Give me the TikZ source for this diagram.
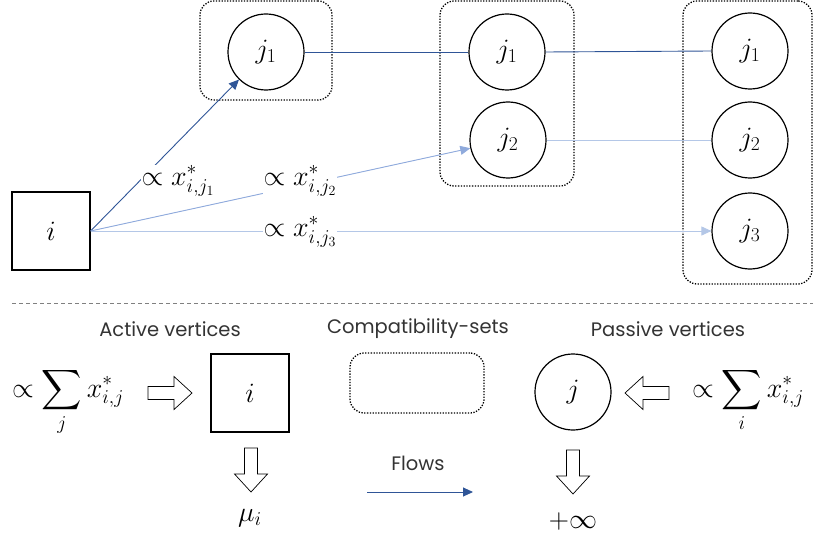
\RequirePackage{fix-cm}
\documentclass[tikz,border=0pt]{standalone}
\usepackage{exscale}
\usepackage{fontspec}
\setsansfont{Poppins}
\usetikzlibrary{arrows.meta}
\definecolor{flowdark}{HTML}{2F5597}
\definecolor{flowmid}{HTML}{8FAADC}
\definecolor{flowlight}{HTML}{B4C7E7}
\DeclareFontShape{OMX}{cmex}{m}{n}{<->cmex10}{}
\newcommand\mfs{\fontsize{28}{33}\selectfont}
\begin{document}
\begin{tikzpicture}[x=1pt,y=-1pt,
  vert/.style={circle,draw,line width=1.2pt,minimum size=76pt,inner sep=0pt,font=\mfs},
  actv/.style={rectangle,draw,line width=1.2pt,minimum size=78pt,inner sep=0pt,font=\mfs},
  cset/.style={draw,line width=1.3pt,dash pattern=on 1.3pt off 1.5pt,rounded corners=14pt,inner sep=0pt},
  lbl/.style={fill=white,inner sep=1pt,font=\mfs},
  mathtxt/.style={inner sep=0pt,font=\mfs},
  legtxt/.style={font=\sffamily\fontsize{19.5}{23}\selectfont,text=black!80,inner sep=0pt},
  fdark/.style={draw=flowdark,line width=0.9pt},
  fmid/.style={draw=flowmid,line width=0.9pt},
  flight/.style={draw=flowlight,line width=0.9pt},
  tipd/.style={-{Triangle[length=10pt,width=9pt]}},
  hollow/.pic={\draw[line width=0.7pt,fill=white] (0,-6.5) -- (26,-6.5) -- (26,-16.5) -- (44,0) -- (26,16.5) -- (26,6.5) -- (0,6.5) -- cycle;}
]
\useasboundingbox (0,0) rectangle (813,540);

% compatibility sets
\node[cset,minimum width=132pt,minimum height=99pt] (set1) at (266,50.5) {};
\node[cset,minimum width=134pt,minimum height=185pt] (set2) at (507,93.5) {};
\node[cset,minimum width=129pt,minimum height=283pt] (set3) at (747.5,142.5) {};

% vertices
\node[actv] (ia) at (51,231) {$i$};
\node[vert] (j1a) at (266,52) {$j_1$};
\node[vert] (j1b) at (507,52) {$j_1$};
\node[vert] (j2b) at (508,140) {$j_2$};
\node[vert] (j1c) at (750,51) {$j_1$};
\node[vert] (j2c) at (750,140) {$j_2$};
\node[vert] (j3c) at (750,231) {$j_3$};

% flows
\draw[fdark,tipd] (ia.east) -- (j1a);
\draw[fmid,-{Triangle[length=10pt,width=9pt]},fill=flowmid] (ia.east) -- (j2b);
\draw[flight,-{Triangle[length=10pt,width=9pt]},fill=flowlight] (ia.east) -- (j3c.west);
\draw[fdark] (j1a.east) -- (j1b.west);
\draw[fdark] (j1b.east) -- (j1c.west);
\draw[flight] (j2b.east) -- (j2c.west);

\node[lbl] (l1) at (178,181) {$\propto x^*_{i,j_1}$};
\node[lbl] (l2) at (300,181) {$\propto x^*_{i,j_2}$};
\node[lbl] (l3) at (300,232) {$\propto x^*_{i,j_3}$};

% separator
\coordinate (d0) at (12,303);
\coordinate (d1) at (813,303);
\draw[gray,line width=0.6pt,dash pattern=on 4pt off 3pt] (d0) -- (d1);

% legend
\node[legtxt] (tact) at (170,329) {Active vertices};
\node[legtxt] (tcomp) at (418,329) {Compatibility-sets};
\node[legtxt] (tpas) at (668,329) {Passive vertices};

\node[mathtxt,anchor=base west] (sumj) at (12,397) {$\displaystyle\propto\sum_j x^*_{i,j}$};
\pic at (148,393) {hollow};
\node[actv] (il) at (250,393) {$i$};
\pic[rotate=-90] at (251,448) {hollow};
\node[mathtxt,anchor=base] (mui) at (250,521) {$\mu_i$};

\node[cset,minimum width=134pt,minimum height=60pt] (setl) at (417,383) {};
\node[legtxt] (tflows) at (418,463) {Flows};
\coordinate (fl0) at (367,492);
\coordinate (fl1) at (473,492);
\draw[fdark,tipd] (fl0) -- (fl1);

\node[vert] (jl) at (573,392) {$j$};
\pic[rotate=180] at (669,393) {hollow};
\node[mathtxt,anchor=base west] (sumi) at (692,397) {$\displaystyle\propto\sum_i x^*_{i,j}$};
\pic[rotate=-90] at (573,450) {hollow};
\node[mathtxt,anchor=base] (inf) at (573,528) {$+\infty$};
\end{tikzpicture}
\end{document}
